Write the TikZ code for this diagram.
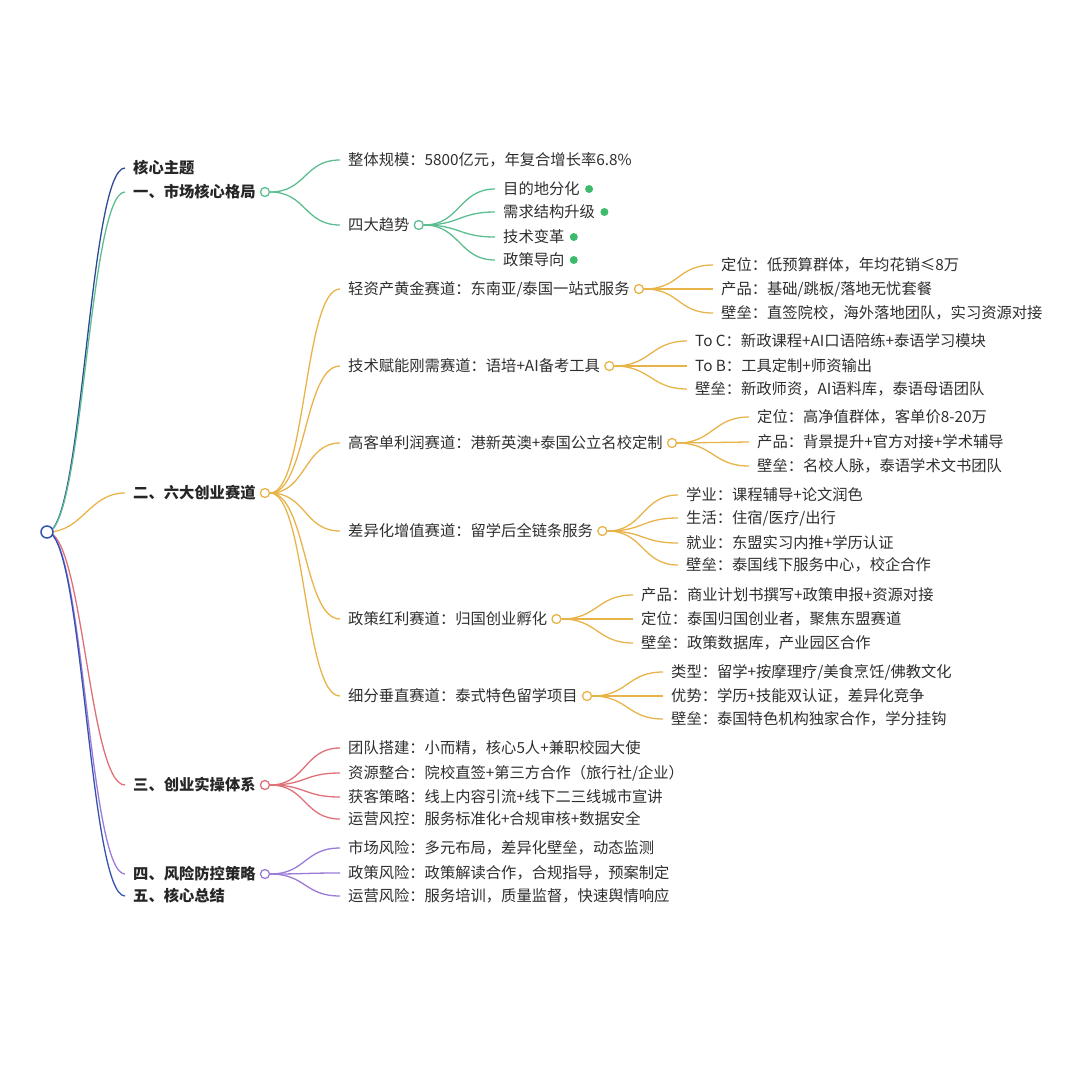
\documentclass[tikz,border=0pt]{standalone}
\usepackage{fontspec}
\setmainfont{Noto Sans CJK SC}
\usetikzlibrary{calc}
\definecolor{mmblue}{HTML}{3552B0}
\definecolor{mmnavy}{HTML}{2E4A94}
\definecolor{mmgreen}{HTML}{5CBE90}
\definecolor{mmdot}{HTML}{3DBB6C}
\definecolor{mmorange}{HTML}{E8B44A}
\definecolor{mmred}{HTML}{E07078}
\definecolor{mmpurple}{HTML}{9B7AD8}
\definecolor{mmtext}{HTML}{2E2E2E}

\begin{document}
\begin{tikzpicture}[x=1pt,y=-1pt]
\tikzstyle{topic}=[anchor=west, inner xsep=8pt, inner ysep=0pt, text height=14pt, text depth=2.6pt, font=\fontsize{15.3}{18}\selectfont\bfseries, text=black!85]
\tikzstyle{leaf}=[anchor=west, inner xsep=8pt, inner ysep=0pt, text height=14pt, text depth=2.6pt, font=\fontsize{15.3}{18}\selectfont, text=mmtext]
\tikzstyle{knob}=[anchor=west, circle, fill=white, line width=1.3pt, minimum size=9pt, inner sep=0pt, xshift=-4pt]
\tikzstyle{dot}=[anchor=west, circle, fill=mmdot, draw=none, minimum size=8pt, inner sep=0pt, xshift=-3pt]
\tikzstyle{branch}=[line width=1.3pt, to path={.. controls ([xshift=36pt]\tikztostart) and ([xshift=-36pt]\tikztotarget) .. (\tikztotarget)}]

\useasboundingbox (0,0) rectangle (1080,1080);

\coordinate (hub) at (47,532);

\node (t0) [topic] at (125,168) {核心主题};
\node (t1) [topic] at (125,192) {一、市场核心格局};
\node (t2) [topic] at (125,493) {二、六大创业赛道};
\node (t3) [topic] at (125,785) {三、创业实操体系};
\node (t4) [topic] at (125,874) {四、风险防控策略};
\node (t5) [topic] at (125,896) {五、核心总结};

\node (k1) [knob, draw=mmgreen] at (t1.east) {};
\node (k2) [knob, draw=mmorange] at (t2.east) {};
\node (k3) [knob, draw=mmred] at (t3.east) {};
\node (k4) [knob, draw=mmpurple] at (t4.east) {};

\draw [branch, mmnavy] (hub) to (t0.west);
\draw [branch, mmgreen] (hub) to (t1.west);
\draw [branch, mmorange] (hub) to (t2.west);
\draw [branch, mmred] (hub) to (t3.west);
\draw [branch, mmpurple] (hub) to (t4.west);
\draw [branch, mmblue] (hub) to (t5.west);
\node (root) [circle, draw=mmblue, fill=white, line width=1.5pt, minimum size=12pt, inner sep=0pt] at (hub) {};

% market
\node (g1) [leaf] at (340,160) {整体规模：5800亿元，年复合增长率6.8\%};
\node (g2) [leaf] at (340,225) {四大趋势};
\node (kg2) [knob, draw=mmgreen] at (g2.east) {};
\draw [branch, mmgreen] (k1.east) to (g1.west);
\draw [branch, mmgreen] (k1.east) to (g2.west);

\node (g21) [leaf] at (495,189) {目的地分化};
\node (g22) [leaf] at (495,212) {需求结构升级};
\node (g23) [leaf] at (495,237) {技术变革};
\node (g24) [leaf] at (495,260) {政策导向};
\foreach \i in {1,...,4} {
  \node (dg2\i) [dot] at (g2\i.east) {};
  \draw [branch, mmgreen] (kg2.east) to (g2\i.west);
}

% tracks
\node (o1) [leaf] at (340,289) {轻资产黄金赛道：东南亚/泰国一站式服务};
\node (o2) [leaf] at (340,366) {技术赋能刚需赛道：语培+AI备考工具};
\node (o3) [leaf] at (340,443) {高客单利润赛道：港新英澳+泰国公立名校定制};
\node (o4) [leaf] at (340,531) {差异化增值赛道：留学后全链条服务};
\node (o5) [leaf] at (340,619) {政策红利赛道：归国创业孵化};
\node (o6) [leaf] at (340,696) {细分垂直赛道：泰式特色留学项目};
\foreach \i in {1,...,6} {
  \node (ko\i) [knob, draw=mmorange] at (o\i.east) {};
  \draw [branch, mmorange] (k2.east) to (o\i.west);
}

\node (o11) [leaf] at (713,265) {定位：低预算群体，年均花销≤8万};
\node (o12) [leaf] at (713,289) {产品：基础/跳板/落地无忧套餐};
\node (o13) [leaf] at (713,313) {壁垒：直签院校，海外落地团队，实习资源对接};

\node (o21) [leaf] at (687,341) {To C：新政课程+AI口语陪练+泰语学习模块};
\node (o22) [leaf] at (687,366) {To B：工具定制+师资输出};
\node (o23) [leaf] at (687,389) {壁垒：新政师资，AI语料库，泰语母语团队};

\node (o31) [leaf] at (749,417) {定位：高净值群体，客单价8-20万};
\node (o32) [leaf] at (749,442) {产品：背景提升+官方对接+学术辅导};
\node (o33) [leaf] at (749,466) {壁垒：名校人脉，泰语学术文书团队};

\node (o41) [leaf] at (678,495) {学业：课程辅导+论文润色};
\node (o42) [leaf] at (678,518) {生活：住宿/医疗/出行};
\node (o43) [leaf] at (678,543) {就业：东盟实习内推+学历认证};
\node (o44) [leaf] at (678,565) {壁垒：泰国线下服务中心，校企合作};

\node (o51) [leaf] at (633,595) {产品：商业计划书撰写+政策申报+资源对接};
\node (o52) [leaf] at (633,619) {定位：泰国归国创业者，聚焦东盟赛道};
\node (o53) [leaf] at (633,643) {壁垒：政策数据库，产业园区合作};

\node (o61) [leaf] at (663,672) {类型：留学+按摩理疗/美食烹饪/佛教文化};
\node (o62) [leaf] at (663,696) {优势：学历+技能双认证，差异化竞争};
\node (o63) [leaf] at (663,719) {壁垒：泰国特色机构独家合作，学分挂钩};

\foreach \i/\n in {1/3,2/3,3/3,4/4,5/3,6/3} {
  \foreach \j in {1,...,\n}
    \draw [branch, mmorange] (ko\i.east) to (o\i\j.west);
}

% practice
\node (r1) [leaf] at (340,748) {团队搭建：小而精，核心5人+兼职校园大使};
\node (r2) [leaf] at (340,773) {资源整合：院校直签+第三方合作（旅行社/企业）};
\node (r3) [leaf] at (340,797) {获客策略：线上内容引流+线下二三线城市宣讲};
\node (r4) [leaf] at (340,819) {运营风控：服务标准化+合规审核+数据安全};
\foreach \i in {1,...,4}
  \draw [branch, mmred] (k3.east) to (r\i.west);

% risk
\node (p1) [leaf] at (340,848) {市场风险：多元布局，差异化壁垒，动态监测};
\node (p2) [leaf] at (340,873) {政策风险：政策解读合作，合规指导，预案制定};
\node (p3) [leaf] at (340,896) {运营风险：服务培训，质量监督，快速舆情响应};
\foreach \i in {1,...,3}
  \draw [branch, mmpurple] (k4.east) to (p\i.west);

\end{tikzpicture}
\end{document}
